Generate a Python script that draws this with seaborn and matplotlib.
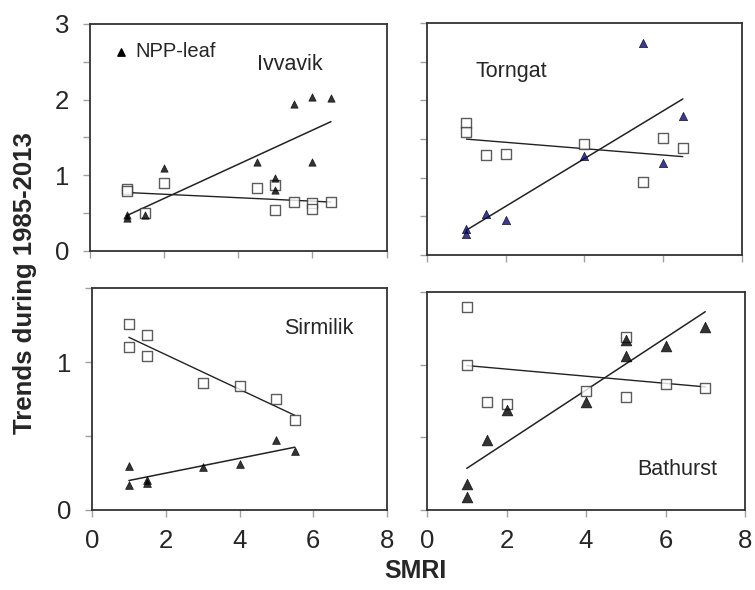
"""
Four-panel scatter with OLS fits: NPP-leaf trends (triangles) and the
second index (open squares) against SMRI for four Arctic parks.
"""
import numpy as np
import pandas as pd
import matplotlib
matplotlib.use('Agg')
import matplotlib.pyplot as plt
import seaborn as sns
from matplotlib.ticker import MultipleLocator

# ---- data ----
ivv_leaf_x = [1, 1, 1.5, 2, 4.5, 5, 5, 5.5, 6, 6, 6.5]
ivv_leaf_y = [0.48, 0.43, 0.48, 1.10, 1.17, 0.96, 0.80, 1.94, 2.04, 1.17, 2.02]
ivv_sq_x   = [1, 1, 1.5, 2, 4.5, 5, 5, 5.5, 6, 6, 6.5]
ivv_sq_y   = [0.82, 0.79, 0.50, 0.90, 0.83, 0.87, 0.54, 0.65, 0.63, 0.56, 0.65]

tor_leaf_x = [1, 1, 1.5, 2, 4, 5.5, 6, 6.5]
tor_leaf_y = [0.33, 0.27, 0.53, 0.45, 1.28, 2.74, 1.19, 1.80]
tor_sq_x   = [1, 1, 1.5, 2, 4, 5.5, 6, 6.5]
tor_sq_y   = [1.71, 1.59, 1.30, 1.31, 1.44, 0.94, 1.52, 1.38]

sir_leaf_x = [1, 1, 1.5, 1.5, 3, 4, 5, 5.5]
sir_leaf_y = [0.30, 0.17, 0.20, 0.18, 0.29, 0.31, 0.47, 0.40]
sir_sq_x   = [1, 1, 1.5, 1.5, 3, 4, 5, 5.5]
sir_sq_y   = [1.26, 1.10, 1.18, 1.04, 0.86, 0.84, 0.75, 0.61]

bat_leaf_x = [1, 1, 1.5, 2, 4, 5, 5, 6, 7]
bat_leaf_y = [0.18, 0.09, 0.48, 0.69, 0.74, 1.17, 1.06, 1.13, 1.26]
bat_sq_x   = [1, 1, 1.5, 2, 4, 5, 5, 6, 7]
bat_sq_y   = [1.40, 1.00, 0.74, 0.73, 0.82, 1.19, 0.78, 0.87, 0.84]

X_TICKS = [0, 2, 4, 6, 8]

sns.set_style('white')
plt.rcParams['font.family'] = ['Liberation Sans Narrow', 'Liberation Sans', 'DejaVu Sans']

fig = plt.figure(figsize=(7.55, 5.9), dpi=100)

# panel name, axes rect, leaf data, square data, y max, leaf style, label pos
panels = [
    ('Ivvavik', [0.119, 0.5746, 0.393, 0.385],
     (ivv_leaf_x, ivv_leaf_y), (ivv_sq_x, ivv_sq_y), 3.0,
     dict(color='black', s=28), (5.4, 2.46)),
    ('Torngat', [0.5656, 0.5678, 0.417, 0.393],
     (tor_leaf_x, tor_leaf_y), (tor_sq_x, tor_sq_y), 3.0,
     dict(color='#0a0a78', s=36), (2.13, 2.37)),
    ('Sirmilik', [0.1219, 0.1356, 0.3907, 0.376],
     (sir_leaf_x, sir_leaf_y), (sir_sq_x, sir_sq_y), 1.5,
     dict(color='black', s=32), (6.14, 1.23)),
    ('Bathurst', [0.5656, 0.1356, 0.4212, 0.3695],
     (bat_leaf_x, bat_leaf_y), (bat_sq_x, bat_sq_y), 1.5,
     dict(color='black', s=60), (6.29, 0.28)),
]

for i, (name, rect, leaf, sq, ymax, leaf_style, lab) in enumerate(panels):
    ax = fig.add_axes(rect)
    row, col = divmod(i, 2)

    sq_df = pd.DataFrame({'x': sq[0], 'y': sq[1]})
    leaf_df = pd.DataFrame({'x': leaf[0], 'y': leaf[1]})

    sns.regplot(data=sq_df, x='x', y='y', ax=ax, ci=None, marker='s',
                scatter_kws=dict(s=58, facecolors='white', edgecolors='#333333',
                                 linewidths=1.0, zorder=3),
                line_kws=dict(color='#222222', lw=1.0, zorder=2))
    sns.regplot(data=leaf_df, x='x', y='y', ax=ax, ci=None, marker='^',
                scatter_kws=dict(s=leaf_style['s'], color=leaf_style['color'],
                                 edgecolors='black', linewidths=0.5, zorder=4),
                line_kws=dict(color='#222222', lw=1.1, zorder=2))

    ax.set_xlim(0, 8)
    ax.set_ylim(0, ymax)
    ax.set_xticks(X_TICKS)
    ax.yaxis.set_major_locator(MultipleLocator(1))
    ax.yaxis.set_minor_locator(MultipleLocator(0.5))
    ax.set_xlabel('')
    ax.set_ylabel('')

    ax.tick_params(axis='both', which='both', direction='out', length=5,
                   width=1, color='#a0a0a0', labelsize=18.5, left=True, bottom=True)
    ax.tick_params(axis='y', pad=10)
    ax.tick_params(axis='x', pad=9)
    if row == 0:
        ax.tick_params(axis='x', labelbottom=False)
    if col == 1:
        ax.tick_params(axis='y', which='both', labelleft=False)

    for sp in ax.spines.values():
        sp.set_color('#333333')
        sp.set_linewidth(1.3)

    ax.text(lab[0], lab[1], name, ha='center', va='center', fontsize=15.5)

    if i == 0:
        ax.scatter([0.83], [2.63], marker='^', s=28, color='black', zorder=4)
        ax.text(1.22, 2.63, 'NPP-leaf', ha='left', va='center', fontsize=14.5)

fig.text(0.033, 0.52, 'Trends during 1985-2013', rotation=90, ha='center',
         va='center', fontsize=18.5, fontweight='bold',
         family=['Liberation Sans', 'DejaVu Sans'])
fig.text(0.55, 0.033, 'SMRI', ha='center', va='center', fontsize=18,
         fontweight='bold')

fig.savefig('out.png', dpi=100)
plt.close(fig)
